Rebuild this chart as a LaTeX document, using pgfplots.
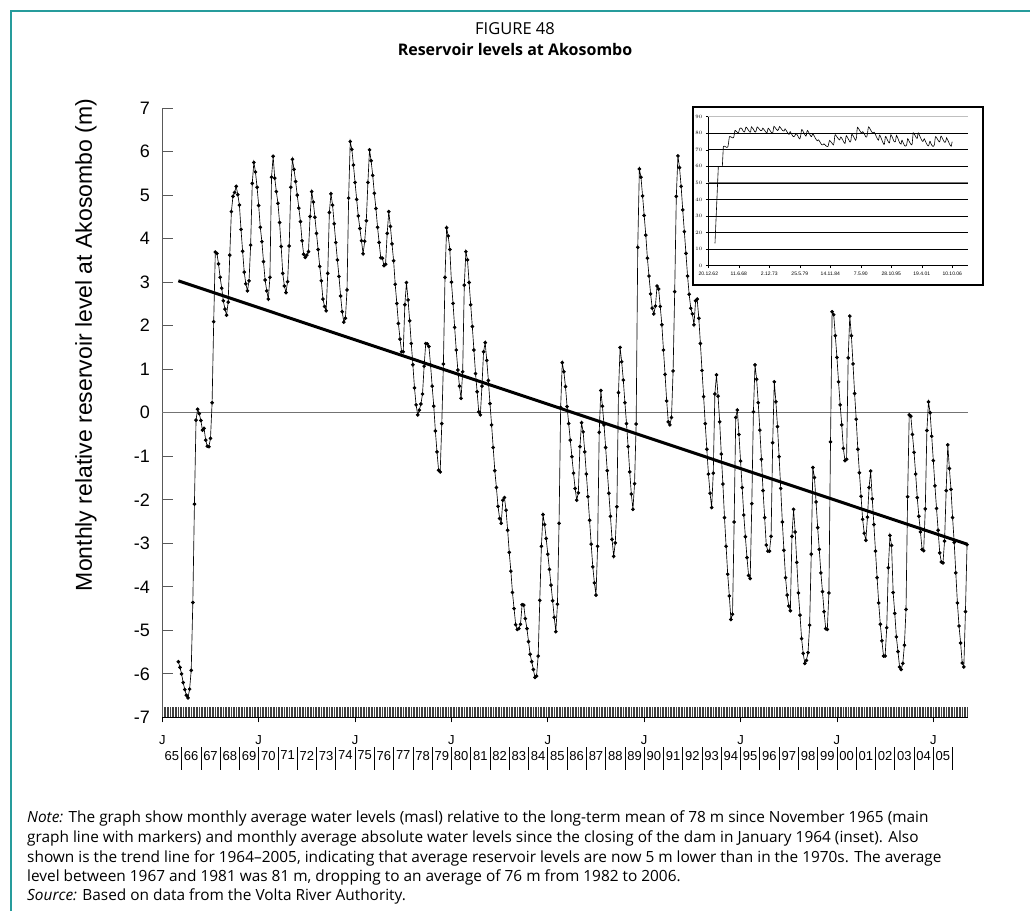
\documentclass[border=0pt]{standalone}
\usepackage{pgfplots}
\pgfplotsset{compat=1.18}
\usepackage{pgfplotstable}
\usepackage{fontspec}
\setmainfont{Liberation Sans}
\newfontfamily\capfont{Open Sans}
\definecolor{framecol}{RGB}{38,156,156}

% month index m (0 = Jan 1965), level relative to 78 m mean
\pgfplotstableread[row sep=\\]{
m v\\
10 -5.72\\ 11 -5.85\\ 12 -6.00\\ 13 -6.20\\ 14 -6.36\\ 15 -6.49\\ 16 -6.55\\ 17 -6.35\\ 18 -5.92\\ 19 -4.36\\
20 -2.10\\ 21 -0.17\\ 22 0.08\\ 23 -0.02\\ 24 -0.18\\ 25 -0.40\\ 26 -0.36\\ 27 -0.63\\ 28 -0.77\\ 29 -0.78\\
30 -0.59\\ 31 0.23\\ 32 2.09\\ 33 3.69\\ 34 3.66\\ 35 3.42\\ 36 3.11\\ 37 2.86\\ 38 2.57\\ 39 2.38\\
40 2.24\\ 41 2.54\\ 42 3.62\\ 43 4.62\\ 44 4.97\\ 45 5.06\\ 46 5.20\\ 47 5.01\\ 48 4.77\\ 49 4.21\\
50 3.71\\ 51 3.23\\ 52 2.96\\ 53 2.80\\ 54 3.03\\ 55 3.85\\ 56 5.27\\ 57 5.75\\ 58 5.53\\ 59 5.18\\
60 4.76\\ 61 4.26\\ 62 3.93\\ 63 3.47\\ 64 3.05\\ 65 2.80\\ 66 2.61\\ 67 3.11\\ 68 5.41\\ 69 5.89\\
70 5.39\\ 71 5.08\\ 72 4.81\\ 73 4.37\\ 74 3.82\\ 75 3.20\\ 76 2.91\\ 77 2.76\\ 78 3.01\\ 79 3.83\\
80 5.18\\ 81 5.82\\ 82 5.59\\ 83 5.31\\ 84 5.00\\ 85 4.70\\ 86 4.39\\ 87 3.95\\ 88 3.64\\ 89 3.57\\
90 3.62\\ 91 3.70\\ 92 4.51\\ 93 5.08\\ 94 4.84\\ 95 4.49\\ 96 4.12\\ 97 3.75\\ 98 3.36\\ 99 3.03\\
100 2.61\\ 101 2.44\\ 102 2.34\\ 103 3.20\\ 104 4.60\\ 105 5.03\\ 106 4.77\\ 107 4.34\\ 108 3.91\\ 109 3.51\\
110 3.13\\ 111 2.68\\ 112 2.32\\ 113 2.08\\ 114 2.17\\ 115 2.82\\ 116 4.93\\ 117 6.23\\ 118 6.05\\ 119 5.69\\
120 5.29\\ 121 4.90\\ 122 4.52\\ 123 4.23\\ 124 3.95\\ 125 3.65\\ 126 3.94\\ 127 4.41\\ 128 5.29\\ 129 6.04\\
130 5.79\\ 131 5.45\\ 132 5.04\\ 133 4.69\\ 134 4.26\\ 135 3.91\\ 136 3.56\\ 137 3.55\\ 138 3.38\\ 139 3.41\\
140 4.12\\ 141 4.62\\ 142 4.28\\ 143 3.88\\ 144 3.49\\ 145 2.95\\ 146 2.51\\ 147 2.05\\ 148 1.69\\ 149 1.40\\
150 1.40\\ 151 2.48\\ 152 2.99\\ 153 2.59\\ 154 2.11\\ 155 1.59\\ 156 1.10\\ 157 0.57\\ 158 0.18\\ 159 -0.05\\
160 0.06\\ 161 0.20\\ 162 0.43\\ 163 1.07\\ 164 1.59\\ 165 1.58\\ 166 1.52\\ 167 1.10\\ 168 0.61\\ 169 0.15\\
170 -0.42\\ 171 -0.90\\ 172 -1.32\\ 173 -1.36\\ 174 -0.25\\ 175 1.12\\ 176 3.11\\ 177 4.25\\ 178 4.06\\ 179 3.75\\
180 3.00\\ 181 2.51\\ 182 1.96\\ 183 1.44\\ 184 0.98\\ 185 0.61\\ 186 0.33\\ 187 0.94\\ 188 2.93\\ 189 3.70\\
190 3.51\\ 191 2.99\\ 192 2.48\\ 193 1.98\\ 194 1.44\\ 195 0.90\\ 196 0.48\\ 197 0.02\\ 198 -0.05\\ 199 0.61\\
200 1.40\\ 201 1.61\\ 202 1.20\\ 203 0.74\\ 204 0.21\\ 205 -0.28\\ 206 -0.80\\ 207 -1.33\\ 208 -1.72\\ 209 -2.15\\
210 -2.43\\ 211 -2.54\\ 212 -2.01\\ 213 -1.95\\ 214 -2.24\\ 215 -2.70\\ 216 -3.21\\ 217 -3.64\\ 218 -4.13\\ 219 -4.50\\
220 -4.87\\ 221 -4.98\\ 222 -4.96\\ 223 -4.86\\ 224 -4.41\\ 225 -4.42\\ 226 -4.73\\ 227 -4.96\\ 228 -5.26\\ 229 -5.55\\
230 -5.72\\ 231 -5.90\\ 232 -6.08\\ 233 -6.05\\ 234 -5.59\\ 235 -4.31\\ 236 -3.07\\ 237 -2.34\\ 238 -2.57\\ 239 -2.89\\
240 -3.25\\ 241 -3.60\\ 242 -3.96\\ 243 -4.32\\ 244 -4.70\\ 245 -5.03\\ 246 -4.40\\ 247 -2.54\\ 248 0.12\\ 249 1.15\\
250 0.94\\ 251 0.60\\ 252 0.14\\ 253 -0.25\\ 254 -0.63\\ 255 -1.01\\ 256 -1.39\\ 257 -1.74\\ 258 -2.01\\ 259 -1.84\\
260 -0.78\\ 261 -0.23\\ 262 -0.44\\ 263 -0.90\\ 264 -1.41\\ 265 -1.93\\ 266 -2.47\\ 267 -3.02\\ 268 -3.54\\ 269 -3.91\\
270 -4.19\\ 271 -3.07\\ 272 -0.45\\ 273 0.51\\ 274 0.15\\ 275 -0.28\\ 276 -0.80\\ 277 -1.33\\ 278 -1.85\\ 279 -2.38\\
280 -2.91\\ 281 -3.30\\ 282 -2.99\\ 283 -2.16\\ 284 0.46\\ 285 1.50\\ 286 1.17\\ 287 0.75\\ 288 0.23\\ 289 -0.25\\
290 -0.78\\ 291 -1.36\\ 292 -1.87\\ 293 -2.22\\ 294 -1.63\\ 295 -0.26\\ 296 3.80\\ 297 5.60\\ 298 5.41\\ 299 4.98\\
300 4.53\\ 301 4.08\\ 302 3.55\\ 303 3.14\\ 304 2.73\\ 305 2.40\\ 306 2.27\\ 307 2.45\\ 308 2.91\\ 309 2.84\\
310 2.44\\ 311 2.02\\ 312 1.44\\ 313 0.88\\ 314 0.27\\ 315 -0.21\\ 316 -0.28\\ 317 -0.11\\ 318 0.96\\ 319 2.78\\
320 4.97\\ 321 5.90\\ 322 5.63\\ 323 5.20\\ 324 4.66\\ 325 4.16\\ 326 3.66\\ 327 3.14\\ 328 2.72\\ 329 2.40\\
330 2.27\\ 331 2.02\\ 332 2.57\\ 333 2.61\\ 334 2.17\\ 335 1.59\\ 336 0.97\\ 337 0.37\\ 338 -0.25\\ 339 -0.84\\
340 -1.41\\ 341 -1.85\\ 342 -2.18\\ 343 -1.39\\ 344 0.43\\ 345 0.87\\ 346 0.38\\ 347 -0.21\\ 348 -0.95\\ 349 -1.64\\
350 -2.41\\ 351 -3.07\\ 352 -3.71\\ 353 -4.21\\ 354 -4.75\\ 355 -4.63\\ 356 -2.51\\ 357 -0.11\\ 358 0.06\\ 359 -0.50\\
360 -1.11\\ 361 -1.72\\ 362 -2.35\\ 363 -2.85\\ 364 -3.33\\ 365 -3.74\\ 366 -3.81\\ 367 -2.09\\ 368 0.02\\ 369 1.10\\
370 0.77\\ 371 0.23\\ 372 -0.40\\ 373 -1.07\\ 374 -1.79\\ 375 -2.41\\ 376 -3.04\\ 377 -3.18\\ 378 -3.18\\ 379 -2.84\\
380 -0.69\\ 381 0.71\\ 382 0.25\\ 383 -0.32\\ 384 -1.01\\ 385 -1.74\\ 386 -2.51\\ 387 -3.16\\ 388 -3.79\\ 389 -4.19\\
390 -4.44\\ 391 -4.55\\ 392 -2.84\\ 393 -2.22\\ 394 -2.74\\ 395 -3.44\\ 396 -4.14\\ 397 -4.65\\ 398 -5.19\\ 399 -5.53\\
400 -5.76\\ 401 -5.69\\ 402 -5.51\\ 403 -4.88\\ 404 -3.25\\ 405 -1.26\\ 406 -1.49\\ 407 -2.05\\ 408 -2.64\\ 409 -3.14\\
410 -3.68\\ 411 -4.11\\ 412 -4.57\\ 413 -4.96\\ 414 -4.98\\ 415 -4.14\\ 416 -0.67\\ 417 2.32\\ 418 2.25\\ 419 1.77\\
420 1.27\\ 421 0.71\\ 422 0.18\\ 423 -0.28\\ 424 -0.82\\ 425 -1.10\\ 426 -1.07\\ 427 1.26\\ 428 2.22\\ 429 1.77\\
430 1.12\\ 431 0.44\\ 432 -0.15\\ 433 -0.84\\ 434 -1.38\\ 435 -1.92\\ 436 -2.45\\ 437 -2.77\\ 438 -2.93\\ 439 -2.40\\
440 -1.72\\ 441 -1.34\\ 442 -1.98\\ 443 -2.57\\ 444 -3.18\\ 445 -3.79\\ 446 -4.37\\ 447 -4.86\\ 448 -5.24\\ 449 -5.59\\
450 -5.59\\ 451 -4.94\\ 452 -3.56\\ 453 -2.82\\ 454 -3.05\\ 455 -4.13\\ 456 -4.61\\ 457 -5.15\\ 458 -5.49\\ 459 -5.84\\
460 -5.90\\ 461 -5.76\\ 462 -5.34\\ 463 -4.52\\ 464 -1.93\\ 465 -0.05\\ 466 -0.08\\ 467 -0.50\\ 468 -0.91\\ 469 -1.41\\
470 -1.95\\ 471 -2.38\\ 472 -2.74\\ 473 -3.14\\ 474 -3.17\\ 475 -2.21\\ 476 -0.41\\ 477 0.25\\ 478 0.00\\ 479 -0.54\\
480 -1.10\\ 481 -1.68\\ 482 -2.20\\ 483 -2.70\\ 484 -3.22\\ 485 -3.43\\ 486 -3.45\\ 487 -2.95\\ 488 -1.79\\ 489 -0.74\\
490 -1.28\\ 491 -1.76\\ 492 -2.41\\ 493 -2.98\\ 494 -3.68\\ 495 -4.37\\ 496 -4.90\\ 497 -5.29\\ 498 -5.75\\ 499 -5.84\\
500 -4.57\\ 501 -3.03\\
}\levels

\begin{document}
\begin{tikzpicture}
\path[use as bounding box] (0,0) rectangle (1030pt,-911pt);
\draw[framecol, line width=1.6pt] (11pt,-911pt) -- (11pt,-11pt) -- (1030pt,-11pt);

\node[font=\capfont\fontsize{16.5}{19}\selectfont] at (515pt,-29pt) {FIGURE 48};
\node[font=\capfont\bfseries\fontsize{16}{19}\selectfont] at (515pt,-49pt) {Reservoir levels at Akosombo};

% main chart
\begin{axis}[
  at={(162.3pt,-717.4pt)}, anchor=south west,
  width=805.7pt, height=609.4pt, scale only axis,
  xmin=0, xmax=501.6, ymin=-7, ymax=7,
  axis x line*=bottom, axis y line*=left,
  x axis line style={black, line width=0.7pt},
  y axis line style={black!65, line width=0.9pt},
  tick align=inside, major tick length=10.5pt,
  xtick={0,...,501}, xticklabels={},
  xtick style={black!75, line width=0.55pt},
  ytick={-7,...,7},
  yticklabels={-7,-6,-5,-4,-3,-2,-1,0,1,2,3,4,5,6,7},
  ytick style={black!65, line width=0.9pt},
  yticklabel style={font=\fontsize{18}{20}\selectfont, xshift=-9pt},
  clip=false,
]
\draw[black!55, line width=0.8pt] (axis cs:0,0) -- (axis cs:501.6,0);
\addplot[black, line width=0.65pt, mark=*, mark size=1.5pt] table[x=m, y=v] {\levels};
\addplot[black, line width=3pt] coordinates {(10,3.03) (501,-3.02)};
\end{axis}

% J ticks and year labels under the time axis
\begin{axis}[
  at={(162.3pt,-717.4pt)}, anchor=south west,
  width=805.7pt, height=609.4pt, scale only axis,
  xmin=0, xmax=501.6, ymin=-7, ymax=7,
  axis x line*=bottom, hide y axis,
  x axis line style={black, line width=0.7pt},
  tick align=outside, major tick length=5pt,
  xtick={0,60,...,480},
  xticklabels={J,J,J,J,J,J,J,J,J},
  xtick style={black, line width=0.7pt},
  xticklabel style={font=\fontsize{13}{14}\selectfont, yshift=-10pt},
  extra x ticks={6,18,...,498},
  extra x tick labels={65,66,67,68,69,70,71,72,73,74,75,76,77,78,79,80,81,82,83,84,85,86,87,88,89,90,91,92,93,94,95,96,97,98,99,00,01,02,03,04,05},
  extra x tick style={major tick length=0pt, xticklabel style={yshift=-20pt}},
]
\end{axis}
\foreach \k in {1,...,41}
  \draw[line width=0.7pt] ({162.3pt+19.275pt*\k},-747pt) -- ++(0,-23pt);

\node[rotate=90, font=\fontsize{23}{25}\selectfont] at (86pt,-345pt)
  {Monthly relative reservoir level at Akosombo (m)};

% inset with absolute levels
\draw[fill=white, line width=1.2pt] (693pt,-107pt) rectangle (983pt,-285pt);
\begin{axis}[
  at={(708.3pt,-265.7pt)}, anchor=south west,
  width=259.4pt, height=149pt, scale only axis,
  xmin=1962.97, xmax=2009.54, ymin=0, ymax=90,
  axis x line*=bottom, axis y line*=left,
  axis line style={black, line width=0.6pt},
  ytick={0,10,...,90},
  ymajorgrids, major grid style={black, line width=0.7pt},
  xtick={1962.97,1968.45,1973.92,1979.40,1984.87,1990.35,1995.82,2001.30,2006.77},
  xticklabels={20.12.62,11.6.68,2.12.73,25.5.79,14.11.84,7.5.90,28.10.95,19.4.01,10.10.06},
  tick align=outside, major tick length=2.5pt,
  tick style={black, line width=0.5pt},
  tick label style={font=\fontsize{5}{6}\selectfont},
  clip=false,
]
\draw[black!25, line width=0.9pt] (axis cs:1962.97,90) -- (axis cs:2009.54,90);
\draw[black!55, line width=0.9pt] (axis cs:1962.97,50) -- (axis cs:2009.54,50);
\addplot[black, line width=0.6pt] coordinates {(1964.17,13.5) (1964.77,60) (1965.49,60) (1965.67,72) (1965.83,72.28)};
\addplot[black, line width=0.6pt] table[x expr=1965+\thisrow{m}/12, y expr=\thisrow{v}+78] {\levels};
\end{axis}

\node[anchor=north west, align=left, inner sep=0pt,
  font=\capfont\fontsize{15.4}{19.5}\selectfont] at (27pt,-811pt)
  {\textit{Note:} The graph show monthly average water levels (masl) relative to the long-term mean of 78 m since November 1965 (main\\
   graph line with markers) and monthly average absolute water levels since the closing of the dam in January 1964 (inset). Also\\
   shown is the trend line for 1964–2005, indicating that average reservoir levels are now 5 m lower than in the 1970s. The average\\
   level between 1967 and 1981 was 81 m, dropping to an average of 76 m from 1982 to 2006.\\
   \textit{Source:} Based on data from the Volta River Authority.};
\end{tikzpicture}
\end{document}
